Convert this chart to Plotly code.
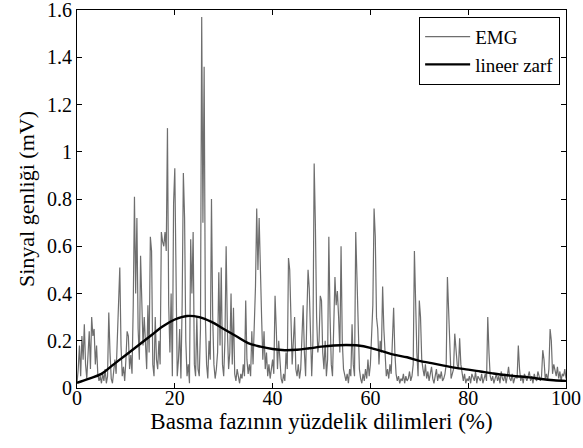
import numpy as np
import plotly.graph_objects as go

# EMG signal sampled every 0.25 % of stance phase (0..100)
emg = [
    # 0 - 4.75
    0.02, 0.08, 0.18, 0.05, 0.22, 0.12, 0.27, 0.10, 0.04, 0.15, 0.24, 0.08, 0.30, 0.22, 0.25, 0.10, 0.18, 0.06, 0.03, 0.05,
    # 5 - 9.75
    0.02, 0.06, 0.03, 0.08, 0.02, 0.05, 0.32, 0.15, 0.04, 0.02, 0.07, 0.12, 0.06, 0.22, 0.39, 0.51, 0.18, 0.05, 0.09, 0.03,
    # 10 - 14.75
    0.12, 0.24, 0.22, 0.08, 0.14, 0.06, 0.35, 0.81, 0.40, 0.72, 0.25, 0.12, 0.56, 0.32, 0.18, 0.30, 0.20, 0.08, 0.35, 0.15,
    # 15 - 19.75
    0.64, 0.58, 0.10, 0.05, 0.30, 0.12, 0.08, 0.20, 0.10, 0.66, 0.62, 0.60, 0.66, 0.58, 1.10, 0.35, 0.15, 0.40, 0.05, 0.78,
    # 20 - 24.75
    0.93, 0.30, 0.05, 0.12, 0.25, 0.04, 0.35, 0.91, 0.72, 0.20, 0.05, 0.10, 0.02, 0.63, 0.40, 0.66, 0.10, 0.05, 0.30, 0.08,
    # 25 - 29.75
    0.05, 0.25, 1.57, 0.70, 1.36, 0.30, 0.10, 0.04, 0.20, 0.12, 0.80, 0.30, 0.10, 0.04, 0.08, 0.15, 0.49, 0.18, 0.51, 0.10,
    # 30 - 34.75
    0.05, 0.20, 0.60, 0.25, 0.08, 0.15, 0.40, 0.10, 0.34, 0.06, 0.03, 0.08, 0.05, 0.02, 0.06, 0.04, 0.10, 0.05, 0.37, 0.12,
    # 35 - 39.75
    0.06, 0.10, 0.05, 0.24, 0.10, 0.30, 0.43, 0.76, 0.50, 0.72, 0.45, 0.30, 0.12, 0.24, 0.08, 0.15, 0.05, 0.10, 0.04, 0.08,
    # 40 - 44.75
    0.12, 0.06, 0.39, 0.25, 0.08, 0.20, 0.12, 0.04, 0.02, 0.06, 0.03, 0.15, 0.08, 0.55, 0.50, 0.28, 0.10, 0.20, 0.30, 0.08,
    # 45 - 49.75
    0.05, 0.10, 0.04, 0.08, 0.20, 0.35, 0.15, 0.05, 0.30, 0.50, 0.42, 0.25, 0.05, 0.20, 0.95, 0.69, 0.30, 0.15, 0.20, 0.39,
    # 50 - 54.75
    0.37, 0.15, 0.08, 0.20, 0.05, 0.12, 0.64, 0.30, 0.10, 0.05, 0.25, 0.47, 0.35, 0.41, 0.30, 0.15, 0.60, 0.20, 0.08, 0.05,
    # 55 - 59.75
    0.03, 0.06, 0.02, 0.08, 0.05, 0.27, 0.10, 0.05, 0.66, 0.47, 0.20, 0.08, 0.04, 0.02, 0.06, 0.03, 0.08, 0.04, 0.12, 0.05,
    # 60 - 64.75
    0.10, 0.20, 0.35, 0.76, 0.64, 0.30, 0.25, 0.10, 0.20, 0.15, 0.43, 0.25, 0.12, 0.05, 0.08, 0.04, 0.10, 0.06, 0.20, 0.34,
    # 65 - 69.75
    0.15, 0.06, 0.03, 0.05, 0.02, 0.04, 0.03, 0.06, 0.02, 0.05, 0.03, 0.04, 0.07, 0.03, 0.05, 0.10, 0.58, 0.35, 0.15, 0.05,
    # 70 - 74.75
    0.37, 0.30, 0.12, 0.08, 0.05, 0.10, 0.04, 0.07, 0.03, 0.06, 0.09, 0.04, 0.02, 0.05, 0.08, 0.03, 0.06, 0.04, 0.07, 0.03,
    # 75 - 79.75
    0.04, 0.06, 0.10, 0.47, 0.30, 0.12, 0.04, 0.06, 0.08, 0.23, 0.15, 0.10, 0.08, 0.21, 0.10, 0.05, 0.03, 0.06, 0.02, 0.04,
    # 80 - 84.75
    0.03, 0.05, 0.02, 0.06, 0.04, 0.03, 0.07, 0.02, 0.05, 0.04, 0.03, 0.06, 0.02, 0.04, 0.06, 0.03, 0.30, 0.15, 0.05, 0.03,
    # 85 - 89.75
    0.05, 0.02, 0.04, 0.06, 0.03, 0.05, 0.02, 0.07, 0.04, 0.03, 0.06, 0.02, 0.05, 0.09, 0.04, 0.03, 0.06, 0.02, 0.04, 0.05,
    # 90 - 94.75
    0.04, 0.18, 0.08, 0.03, 0.05, 0.02, 0.06, 0.04, 0.03, 0.05, 0.07, 0.03, 0.05, 0.02, 0.06, 0.04, 0.03, 0.07, 0.05, 0.03,
    # 95 - 99.75
    0.05, 0.16, 0.12, 0.04, 0.06, 0.03, 0.08, 0.25, 0.20, 0.06, 0.10, 0.08, 0.05, 0.09, 0.04, 0.07, 0.03, 0.06, 0.05, 0.08,
    # 100
    0.04,
]
emg_x = list(np.linspace(0, 100, len(emg)))

# Linear envelope sampled every 2.5 %
env_x = [0, 2.5, 5, 7.5, 10, 12.5, 15, 17.5, 20, 22.5, 25, 27.5, 30, 32.5, 35, 37.5, 40,
         42.5, 45, 47.5, 50, 52.5, 55, 57.5, 60, 62.5, 65, 67.5, 70, 72.5, 75, 77.5, 80,
         82.5, 85, 87.5, 90, 92.5, 95, 97.5, 100]
env = [0.022, 0.04, 0.06, 0.10, 0.14, 0.18, 0.22, 0.26, 0.29, 0.305, 0.30, 0.28, 0.25,
       0.22, 0.19, 0.175, 0.165, 0.16, 0.162, 0.168, 0.175, 0.18, 0.182, 0.18, 0.17,
       0.155, 0.14, 0.13, 0.115, 0.105, 0.095, 0.085, 0.078, 0.07, 0.062, 0.055, 0.05,
       0.045, 0.038, 0.033, 0.03]

x_ticks = [0, 20, 40, 60, 80, 100]
y_ticks = [0, 0.2, 0.4, 0.6, 0.8, 1.0, 1.2, 1.4, 1.6]
y_tick_text = ["0", "0.2", "0.4", "0.6", "0.8", "1", "1.2", "1.4", "1.6"]

FONT = "Liberation Serif"

fig = go.Figure()
fig.add_trace(go.Scatter(x=emg_x, y=emg, mode="lines", name="EMG",
                         line=dict(color="#6e6e6e", width=1.2)))
fig.add_trace(go.Scatter(x=env_x, y=env, mode="lines", name="lineer zarf",
                         line=dict(color="black", width=2.4, shape="spline")))

axis_common = dict(showline=True, linecolor="black", linewidth=1, mirror="ticks",
                   ticks="inside", ticklen=5, tickcolor="black", showgrid=False,
                   zeroline=False, automargin=False, ticklabeloverflow="allow",
                   tickfont=dict(family=FONT, size=20, color="black"))

fig.update_xaxes(range=[0, 100], tickvals=x_ticks, ticklabelstandoff=-8,
                 title=dict(text="Basma fazının yüzdelik dilimleri (%)",
                            font=dict(family=FONT, size=23, color="black"), standoff=0),
                 **axis_common)
fig.update_yaxes(range=[0, 1.6], tickvals=y_ticks, ticktext=y_tick_text,
                 title=dict(text="Sinyal genliği (mV)",
                            font=dict(family=FONT, size=22, color="black"), standoff=6),
                 **axis_common)

fig.update_layout(
    width=583, height=448,
    margin=dict(l=77, r=17, t=10, b=60),
    paper_bgcolor="white", plot_bgcolor="white",
    showlegend=True,
    legend=dict(x=0.988, y=0.982, xanchor="right", yanchor="top",
                bgcolor="white", bordercolor="black", borderwidth=1,
                font=dict(family=FONT, size=19, color="black"),
                tracegroupgap=0, itemwidth=45),
)

fig.write_html("out.html")
